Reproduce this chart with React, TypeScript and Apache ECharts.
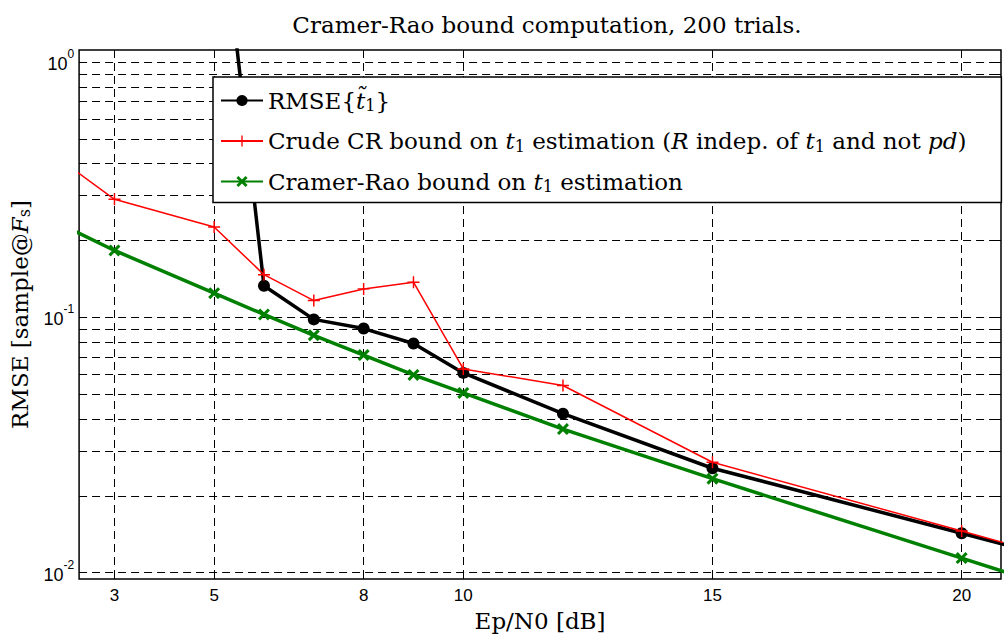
import React, { useEffect, useRef } from 'react';
import * as echarts from 'echarts';

// Ep/N0 [dB]
const snrDb = [2, 3, 5, 6, 7, 8, 9, 10, 12, 15, 20, 21];
// RMSE{t1~} (off-chart above at low SNR)
const rmseValues: (number | null)[] = [null, null, 6.94, 0.1331, 0.0982, 0.0904, 0.079, 0.0606, 0.04196, 0.02564, 0.01426, 0.01268];
// Crude CR bound
const crudeValues = [0.403, 0.2902, 0.2259, 0.147, 0.1164, 0.1293, 0.1373, 0.0628, 0.0541, 0.02706, 0.01455, 0.01285];
// Cramer-Rao bound
const crValues = [0.2277, 0.1829, 0.1244, 0.1027, 0.0851, 0.0712, 0.0595, 0.0506, 0.0365, 0.02333, 0.0114, 0.00988];

const xTicks = [3, 5, 8, 10, 15, 20];
const yLabelTicks = [0.01, 0.1, 1];
const yGridTicks = [
  0.01, 0.02, 0.03, 0.04, 0.05, 0.06, 0.07, 0.08, 0.09,
  0.1, 0.2, 0.3, 0.4, 0.5, 0.6, 0.7, 0.8, 0.9, 1,
];

const X_MIN = 2.29;
const X_MAX = 20.79;
const Y_MIN = 0.00943;
const Y_MAX = 1.116;

const SERIF = "'DejaVu Serif', serif";
const SANS = "'Liberation Sans', Arial, sans-serif";

const legendText: Record<string, string> = {
  rmse: 'RMSE{{i|t\u0303}{s|1}}',
  crude: 'Crude CR bound on {i|t}{s|1} estimation ({i|R} indep. of {i|t}{s|1} and not {i|pd})',
  cr: 'Cramer-Rao bound on {i|t}{s|1} estimation',
};

const pairs = (vals: (number | null)[]) =>
  snrDb.map((x, i) => [x, vals[i]]).filter((p) => p[1] !== null);

const plusPath = 'path://M4.4,0 H5.6 V4.4 H10 V5.6 H5.6 V10 H4.4 V5.6 H0 V4.4 H4.4 Z';
const xPath = 'path://M0,1.8 L1.8,0 L5,3.2 L8.2,0 L10,1.8 L6.8,5 L10,8.2 L8.2,10 L5,6.8 L1.8,10 L0,8.2 L3.2,5 Z';

const gridLine = { show: true, lineStyle: { color: '#000', width: 1, type: [8, 5] as number[] } };

export default function App() {
  const ref = useRef<HTMLDivElement>(null);
  useEffect(() => {
    if (!ref.current) return;
    const chart = echarts.init(ref.current, undefined, { renderer: 'svg' });
    const richText = {
      i: { fontFamily: SERIF, fontSize: 23, fontStyle: 'italic', color: '#000' },
      s: { fontFamily: SERIF, fontSize: 16, color: '#000', padding: [10, 0, 0, 0] },
    };
    chart.setOption({
      animation: false,
      backgroundColor: '#fff',
      title: {
        text: 'Cramer-Rao bound computation, 200 trials.',
        left: 542,
        textAlign: 'center',
        top: 8,
        textStyle: { fontFamily: SERIF, fontSize: 23, fontWeight: 'normal', color: '#000' },
      },
      grid: {
        left: 77, right: 6, top: 50, bottom: 54,
        show: true, borderColor: '#000', borderWidth: 1.5, backgroundColor: 'transparent',
      },
      legend: {
        orient: 'vertical',
        left: 213,
        top: 77,
        z: 10,
        backgroundColor: '#fff',
        borderColor: '#000',
        borderWidth: 1.5,
        padding: [12, 35, 8, 7],
        itemWidth: 42,
        itemHeight: 14,
        itemGap: 16,
        data: ['rmse', 'crude', 'cr'],
        formatter: (name: string) => legendText[name],
        textStyle: { fontFamily: SERIF, fontSize: 23, color: '#000', rich: richText },
      },
      xAxis: [
        {
          type: 'value', min: X_MIN, max: X_MAX, position: 'bottom',
          axisLine: { show: false },
          axisTick: { show: true, inside: true, length: 6, customValues: xTicks, lineStyle: { color: '#000' } },
          axisLabel: { customValues: xTicks, fontFamily: SANS, fontSize: 17, color: '#000', margin: 8 },
          splitLine: gridLine,
          name: 'Ep/N0 [dB]', nameLocation: 'middle', nameGap: 26,
          nameTextStyle: { fontFamily: SERIF, fontSize: 23, color: '#000' },
        },
        {
          type: 'value', min: X_MIN, max: X_MAX, position: 'top',
          axisLine: { show: false },
          axisTick: { show: true, inside: true, length: 6, customValues: xTicks, lineStyle: { color: '#000' } },
          axisLabel: { show: false },
          splitLine: { show: false },
        },
      ],
      yAxis: [
        {
          type: 'log', logBase: 10, min: Y_MIN, max: Y_MAX, position: 'left',
          axisLine: { show: false },
          axisTick: { show: true, inside: true, length: 6, customValues: yGridTicks, lineStyle: { color: '#000' } },
          axisLabel: {
            customValues: yLabelTicks, color: '#000', margin: 5,
            fontFamily: SANS, fontSize: 18,
            formatter: (v: number) => `{base|10}{exp|${Math.round(Math.log10(v))}}`,
            rich: {
              base: { fontFamily: SANS, fontSize: 18, color: '#000', padding: [4, 0, 0, 0] },
              exp: { fontFamily: SANS, fontSize: 12, color: '#000', padding: [0, 0, 16, 0] },
            },
          },
          splitLine: gridLine,
          minorTick: { show: false },
          name: 'RMSE [sample@{i|F}{s|s}]', nameLocation: 'middle', nameGap: 44,
          nameTextStyle: { fontFamily: SERIF, fontSize: 23, color: '#000', rich: richText },
        },
        {
          type: 'log', logBase: 10, min: Y_MIN, max: Y_MAX, position: 'right',
          axisLine: { show: false },
          axisTick: { show: true, inside: true, length: 6, customValues: yGridTicks, lineStyle: { color: '#000' } },
          axisLabel: { show: false },
          splitLine: { show: false },
        },
      ],
      series: [
        {
          name: 'rmse', type: 'line', data: pairs(rmseValues), clip: true,
          symbol: 'circle', symbolSize: 12,
          lineStyle: { color: '#000', width: 3.5 },
          itemStyle: { color: '#000' },
          z: 3,
        },
        {
          name: 'crude', type: 'line', data: pairs(crudeValues), clip: true,
          symbol: plusPath, symbolSize: 12,
          lineStyle: { color: '#ff0000', width: 1.5 },
          itemStyle: { color: '#ff0000' },
          z: 4,
        },
        {
          name: 'cr', type: 'line', data: pairs(crValues), clip: true,
          symbol: xPath, symbolSize: 12,
          lineStyle: { color: '#008000', width: 3.5 },
          itemStyle: { color: '#008000' },
          z: 5,
        },
      ],
    });
    return () => chart.dispose();
  }, []);
  return <div ref={ref} style={{ position: 'fixed', left: 0, top: 0, width: 1007, height: 637 }} />;
}
